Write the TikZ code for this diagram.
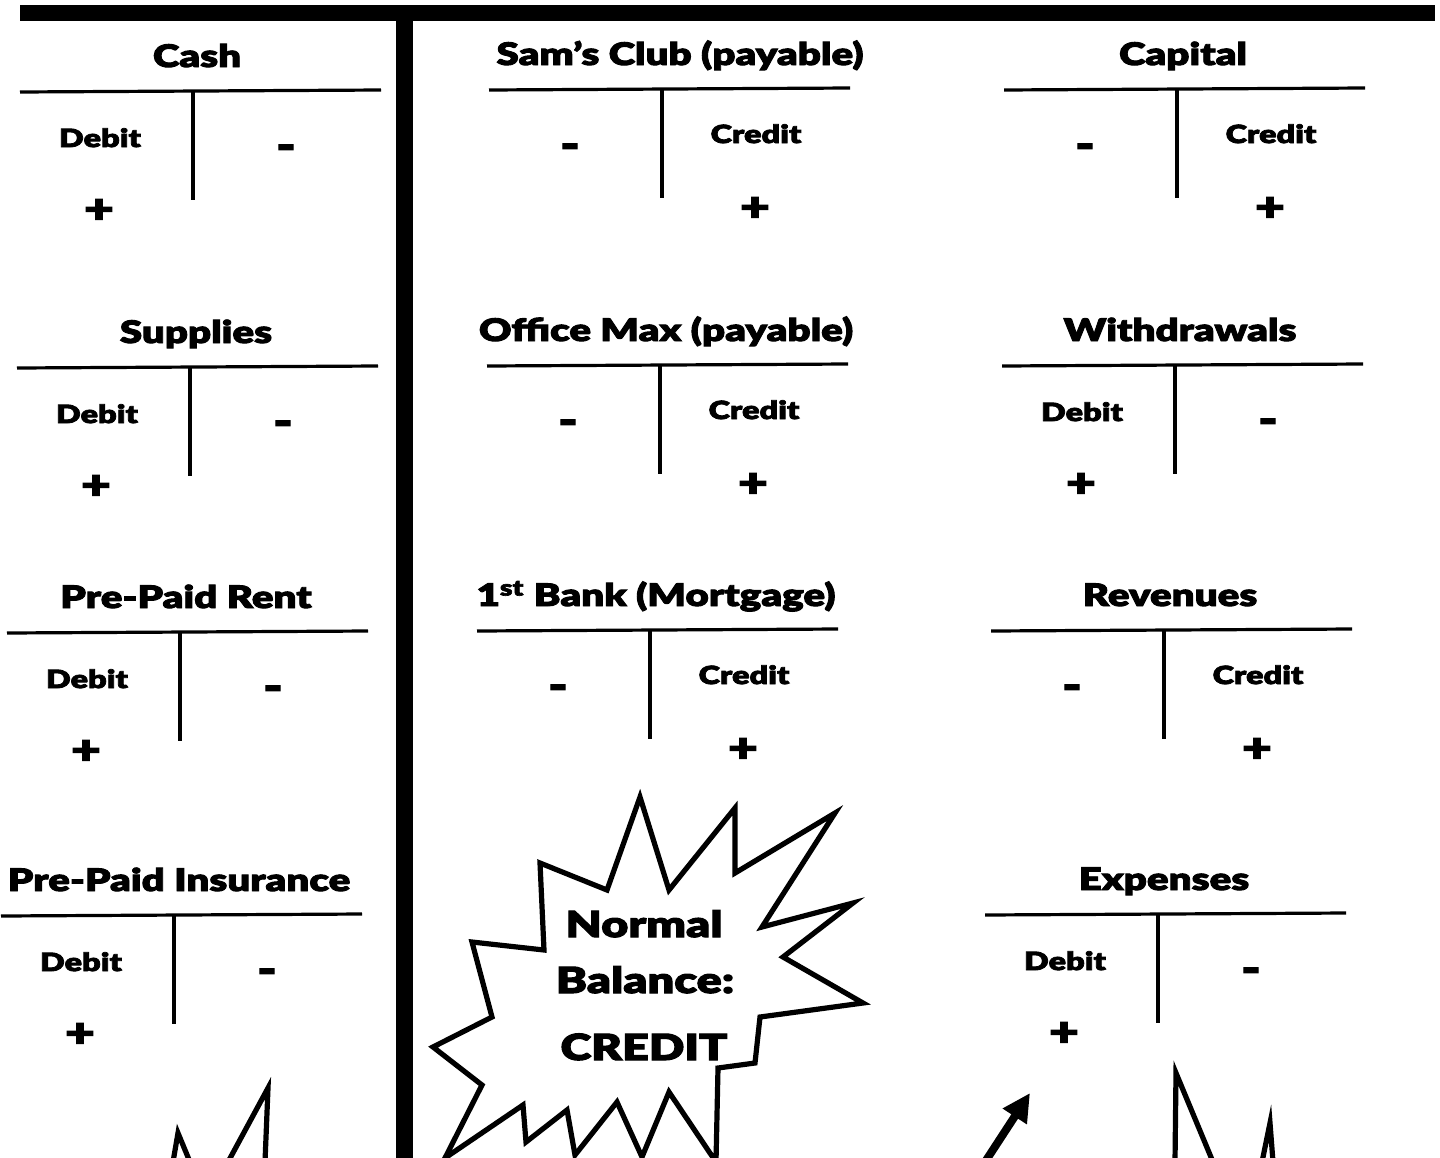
\documentclass[tikz,border=0pt]{standalone}
\usepackage{fontspec}
\setmainfont{Lato Black}[FakeStretch=1.3, FakeBold=3]
\usetikzlibrary{arrows.meta}

% Debit-side T-account: name, left x, rule y, title centre x, title
\newcommand\dacct[5]{%
  \node[acctitle] (#1-title) at (#4,#3-24) {#5};
  \draw[tline] (#2,#3+1) -- (#2+361,#3-1);
  \draw[tline] (#2+173,#3) -- (#2+173,#3+109);
  \node[sidelabel] (#1-side) at (#2+80,#3+56) {Debit};
  \node[signmark] (#1-minus) at (#2+266,#3+61) {-};
  \node[signmark] (#1-plus) at (#2+79,#3+120) {+};
}
% Credit-side T-account
\newcommand\cacct[5]{%
  \node[acctitle] (#1-title) at (#4,#3-24) {#5};
  \draw[tline] (#2,#3+1) -- (#2+361,#3-1);
  \draw[tline] (#2+173,#3) -- (#2+173,#3+109);
  \node[sidelabel] (#1-side) at (#2+267,#3+54) {Credit};
  \node[signmark] (#1-minus) at (#2+81,#3+62) {-};
  \node[signmark] (#1-plus) at (#2+266,#3+120) {+};
}

\begin{document}
\begin{tikzpicture}[x=0.5pt,y=-0.5pt,
  acctitle/.style={font=\fontsize{15.5}{18}\selectfont, inner sep=0, anchor=base},
  sidelabel/.style={font=\fontsize{12.5}{15}\selectfont, inner sep=0, anchor=base},
  signmark/.style={font=\fontsize{20}{22}\selectfont, inner sep=0},
  bursttext/.style={font=\fontsize{18}{22}\selectfont, inner sep=0, anchor=base},
  tline/.style={line width=1.6pt},
  burst/.style={line width=2.6pt, line join=miter},
  bar/.style={line width=8.2pt}]
\useasboundingbox (0,0) rectangle (1440,1157);
\clip (0,0) rectangle (1440,1157);

% frame of the sheet
\draw[bar] (20,13) -- (1435,13);
\draw[line width=8.5pt] (404.5,13) -- (404.5,1165);

% assets
\dacct{cash}{20}{91}{197}{Cash}
\dacct{supplies}{17}{367}{196}{Supplies}
\dacct{rent}{7}{632}{186}{Pre-Paid Rent}
\dacct{insurance}{1}{915}{179}{Pre-Paid Insurance}

% liabilities
\cacct{sams}{489}{89}{680}{Sam’s Club (payable)}
\cacct{office}{487}{365}{666}{Office Max (payable)}
\cacct{bank}{477}{630}{656}{1\textsuperscript{st} Bank (Mortgage)}

% owner's equity
\cacct{capital}{1004}{89}{1183}{Capital}
\dacct{withdrawals}{1002}{365}{1180}{Withdrawals}
\cacct{revenues}{991}{630}{1170}{Revenues}
\dacct{expenses}{985}{914}{1164}{Expenses}

% starburst callout
\draw[burst, fill=white] (640,797) -- (669,890) -- (735,808) -- (735,873) -- (835,813)
  -- (762,927) -- (853,903) -- (783,957) -- (863,1003) -- (760,1017) -- (755,1063)
  -- (718,1068) -- (716,1162) -- (669,1092) -- (642,1157) -- (617,1102) -- (575,1155)
  -- (567,1110) -- (526,1142) -- (523,1105) -- (445,1158) -- (482,1085) -- (433,1047)
  -- (492,1017) -- (472,942) -- (544,950) -- (540,863) -- (607,890) -- cycle;
\node[bursttext] (nb1) at (644,937) {Normal};
\node[bursttext] (nb2) at (645,993) {Balance:};
\node[bursttext] (nb3) at (644,1060) {CREDIT};

% further callouts running off the bottom edge
\draw[burst] (173,1162) -- (178,1133) -- (190,1162);
\draw[burst] (228,1162) -- (268,1088) -- (265,1162);
\draw[burst] (1175,1162) -- (1176,1073) -- (1213,1162);
\draw[burst] (1262,1162) -- (1270,1123) -- (1273,1162);

% pointer to the expenses account
\coordinate (ptrS) at (985,1162);
\coordinate (ptrE) at (1030,1093);
\draw[line width=4pt, -{Triangle[length=14pt,width=13.5pt]}] (ptrS) -- (ptrE);
\end{tikzpicture}
\end{document}
